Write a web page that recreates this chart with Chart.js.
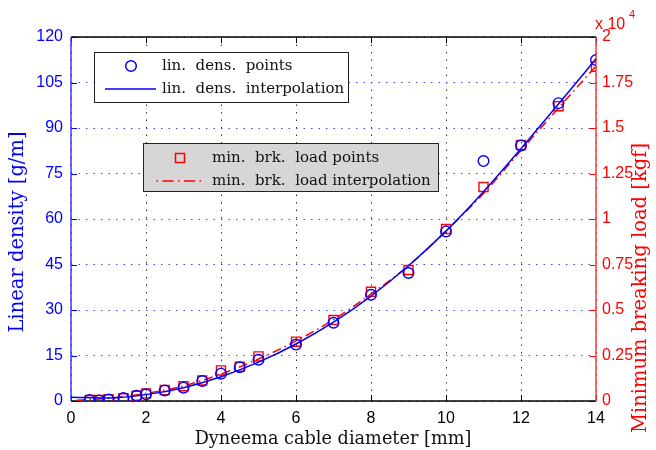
<!DOCTYPE html>
<html>
<head>
<meta charset="utf-8">
<script src="https://cdn.jsdelivr.net/npm/chart.js@4/dist/chart.umd.min.js"></script>
<style>
  html, body { margin: 0; padding: 0; background: #fff; }
  #wrap { width: 656px; height: 450px; }
</style>
</head>
<body>
<div id="wrap"><canvas id="c" width="656" height="450"></canvas></div>
<script>
// Measured cable diameters [mm]
const diameters = [0.5, 0.75, 1, 1.4, 1.75, 2, 2.5, 3, 3.5, 4, 4.5, 5, 6, 7, 8, 9, 10, 11, 12, 13, 14];
// Linear density [g/m] at each diameter
const linDensity = [0.3, 0.2, 0.5, 1.0, 1.7, 2.2, 3.5, 4.4, 6.6, 9.0, 11.1, 13.6, 18.6, 25.8, 35.0, 42.2, 55.9, 79.1, 84.2, 98.2, 112.4];
// Minimum breaking load [kgf] at each diameter
const breakLoad = [50, 50, 95, 150, 290, 420, 600, 810, 1130, 1680, 1880, 2450, 3260, 4450, 6000, 7200, 9450, 11760, 14070, 16200, 18370];

// Interpolation curves
const densCurveDiam = [0, 1, 2, 3, 4, 5, 6, 7, 8, 9, 10, 11, 12, 13, 14];
const densCurve = [1.2, 1.0, 2.1, 4.4, 8.0, 12.8, 18.8, 26.0, 34.6, 44.6, 56.0, 69.0, 83.2, 97.9, 112.8];
const loadCurveDiam = [0.15, 1, 2, 3, 4, 5, 6, 7, 8, 9, 10, 11, 12, 13, 14];
const loadCurve = [40, 150, 420, 830, 1480, 2310, 3300, 4470, 5880, 7430, 9350, 11400, 13770, 16100, 18400];

// Axis ranges / tick steps
const xTicks = [0, 14, 2];
const densTicks = [0, 120, 15];
const loadTicks = [0, 20000, 2500];

const BLUE = '#0000ff';
const RED = '#ff0000';
const SERIF = '"DejaVu Serif", "Liberation Serif", serif';
const SANS = '"Liberation Sans", Arial, sans-serif';

const pts = (xs, ys) => xs.map((x, i) => ({x, y: ys[i]}));

const decor = {
  id: 'decor',
  beforeDraw(chart) {
    const ctx = chart.ctx;
    ctx.save();
    ctx.fillStyle = '#fff';
    ctx.fillRect(0, 0, chart.width, chart.height);
    ctx.restore();
  },
  beforeDatasetsDraw(chart) {
    const {ctx, chartArea: a, scales} = chart;
    ctx.save();
    ctx.setLineDash([]);
    // inward tick marks
    ctx.lineWidth = 1;
    ctx.strokeStyle = '#000';
    scales.x.ticks.forEach(t => {
      const px = Math.round(scales.x.getPixelForValue(t.value)) + 0.5;
      ctx.beginPath();
      ctx.moveTo(px, a.bottom); ctx.lineTo(px, a.bottom - 6);
      ctx.moveTo(px, a.top); ctx.lineTo(px, a.top + 6);
      ctx.stroke();
    });
    ctx.strokeStyle = BLUE;
    scales.y.ticks.forEach(t => {
      const py = Math.round(scales.y.getPixelForValue(t.value)) + 0.5;
      ctx.beginPath(); ctx.moveTo(a.left, py); ctx.lineTo(a.left + 6, py); ctx.stroke();
    });
    ctx.strokeStyle = RED;
    scales.y1.ticks.forEach(t => {
      const py = Math.round(scales.y1.getPixelForValue(t.value)) + 0.5;
      ctx.beginPath(); ctx.moveTo(a.right, py); ctx.lineTo(a.right - 6, py); ctx.stroke();
    });
    // frame
    ctx.lineWidth = 1.5;
    ctx.strokeStyle = '#000';
    ctx.beginPath();
    ctx.moveTo(a.left, a.top); ctx.lineTo(a.right, a.top);
    ctx.moveTo(a.left, a.bottom); ctx.lineTo(a.right, a.bottom);
    ctx.stroke();
    ctx.strokeStyle = '#3a3aff';
    ctx.beginPath(); ctx.moveTo(a.left, a.top); ctx.lineTo(a.left, a.bottom); ctx.stroke();
    ctx.strokeStyle = '#ff3a3a';
    ctx.beginPath(); ctx.moveTo(a.right, a.top); ctx.lineTo(a.right, a.bottom); ctx.stroke();
    ctx.restore();
  },
  afterDatasetsDraw(chart) {
    const ctx = chart.ctx;
    ctx.save();
    ctx.font = '15px ' + SERIF;
    ctx.textBaseline = 'middle';
    ctx.textAlign = 'left';
    // legend for the linear density series
    ctx.fillStyle = '#fff';
    ctx.fillRect(94.5, 52.5, 254, 50);
    ctx.strokeStyle = '#222';
    ctx.lineWidth = 1;
    ctx.strokeRect(94.5, 52.5, 254, 50);
    ctx.strokeStyle = BLUE;
    ctx.lineWidth = 1.5;
    ctx.beginPath(); ctx.arc(131, 66, 5.3, 0, Math.PI * 2); ctx.stroke();
    ctx.beginPath(); ctx.moveTo(105, 89); ctx.lineTo(156, 89); ctx.stroke();
    ctx.fillStyle = '#111';
    ctx.fillText('lin.  dens.  points', 162, 66);
    ctx.fillText('lin.  dens.  interpolation', 162, 89);
    // legend for the breaking load series
    ctx.fillStyle = '#d6d6d6';
    ctx.fillRect(143.5, 143.5, 295, 48);
    ctx.strokeStyle = '#222';
    ctx.lineWidth = 1;
    ctx.strokeRect(143.5, 143.5, 295, 48);
    ctx.strokeStyle = RED;
    ctx.lineWidth = 1.5;
    ctx.strokeRect(175.5, 153.5, 9, 9);
    ctx.setLineDash([11, 4.5, 1.5, 4.5]);
    ctx.lineDashOffset = 12;
    ctx.beginPath(); ctx.moveTo(153, 181); ctx.lineTo(205, 181); ctx.stroke();
    ctx.setLineDash([]);
    ctx.fillStyle = '#111';
    ctx.fillText('min.  brk.  load points', 212, 158);
    ctx.fillText('min.  brk.  load interpolation', 212, 181);
    ctx.restore();
  },
  afterDraw(chart) {
    const ctx = chart.ctx;
    ctx.save();
    ctx.textAlign = 'center';
    ctx.textBaseline = 'middle';
    ctx.font = '17.7px ' + SERIF;
    ctx.fillStyle = '#111';
    ctx.fillText('Dyneema cable diameter [mm]', 333, 439);
    ctx.font = '19.5px ' + SERIF;
    ctx.save();
    ctx.translate(18, 232);
    ctx.rotate(-Math.PI / 2);
    ctx.fillStyle = BLUE;
    ctx.fillText('Linear density [g/m]', 0, 0);
    ctx.restore();
    ctx.save();
    ctx.translate(641, 288);
    ctx.rotate(-Math.PI / 2);
    ctx.fillStyle = RED;
    ctx.fillText('Minimum breaking load [kgf]', 0, 0);
    ctx.restore();
    // exponent of the right axis
    ctx.fillStyle = RED;
    ctx.textAlign = 'left';
    ctx.font = '16px ' + SANS;
    ctx.fillText('x 10', 595, 25);
    ctx.font = '11px ' + SANS;
    ctx.fillText('4', 629, 15);
    ctx.restore();
  }
};

new Chart(document.getElementById('c'), {
  type: 'scatter',
  data: {
    datasets: [
      {
        label: 'lin. dens. points',
        data: pts(diameters, linDensity),
        yAxisID: 'y',
        showLine: false,
        pointStyle: 'circle',
        pointRadius: 5.3,
        pointBorderWidth: 1.4,
        pointBorderColor: BLUE,
        pointBackgroundColor: 'rgba(0,0,0,0)',
        order: 2
      },
      {
        label: 'lin. dens. interpolation',
        data: pts(densCurveDiam, densCurve),
        yAxisID: 'y',
        showLine: true,
        borderColor: BLUE,
        borderWidth: 1.5,
        pointRadius: 0,
        cubicInterpolationMode: 'monotone',
        order: 1
      },
      {
        label: 'min. brk. load points',
        data: pts(diameters, breakLoad),
        yAxisID: 'y1',
        showLine: false,
        pointStyle: 'rect',
        pointRadius: 6.4,
        pointBorderWidth: 1.4,
        pointBorderColor: RED,
        pointBackgroundColor: 'rgba(0,0,0,0)',
        order: 3
      },
      {
        label: 'min. brk. load interpolation',
        data: pts(loadCurveDiam, loadCurve),
        yAxisID: 'y1',
        showLine: true,
        borderColor: RED,
        borderWidth: 1.5,
        borderDash: [9, 4, 1.5, 4],
        pointRadius: 0,
        cubicInterpolationMode: 'monotone',
        order: 4
      }
    ]
  },
  options: {
    responsive: false,
    animation: false,
    layout: { padding: { top: 37, left: 0, right: 0, bottom: 0 } },
    plugins: { legend: { display: false }, tooltip: { enabled: false } },
    scales: {
      x: {
        type: 'linear',
        min: xTicks[0], max: xTicks[1],
        afterFit(s) { s.height = 49; },
        ticks: { stepSize: xTicks[2], color: '#000', font: { family: SANS, size: 16 }, padding: 8, maxRotation: 0 },
        grid: { color: '#333', lineWidth: 1, drawTicks: false },
        border: { display: false, dash: [1.5, 6] }
      },
      y: {
        position: 'left',
        min: densTicks[0], max: densTicks[1],
        afterFit(s) { s.width = 71; },
        ticks: { stepSize: densTicks[2], color: BLUE, font: { family: SANS, size: 16 }, padding: 8 },
        grid: { color: '#4444ff', lineWidth: 1, drawTicks: false },
        border: { display: false, dash: [1.5, 6] }
      },
      y1: {
        position: 'right',
        min: loadTicks[0], max: loadTicks[1],
        afterFit(s) { s.width = 60; },
        ticks: {
          stepSize: loadTicks[2], color: RED, font: { family: SANS, size: 16 }, padding: 6,
          callback: v => String(v / 10000)
        },
        grid: { drawOnChartArea: false, drawTicks: false },
        border: { display: false }
      }
    }
  },
  plugins: [decor]
});
</script>
</body>
</html>
